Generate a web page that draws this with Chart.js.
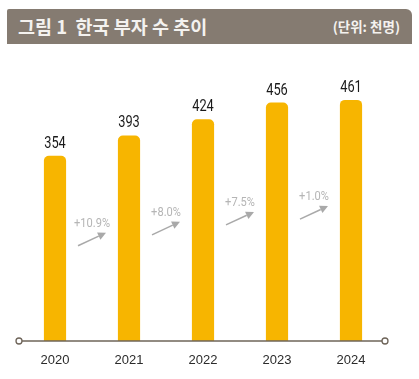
<!DOCTYPE html>
<html>
<head>
<meta charset="utf-8">
<script src="https://cdn.jsdelivr.net/npm/chart.js@4.4.1/dist/chart.umd.min.js"></script>
<style>
  html, body { margin: 0; padding: 0; background: #fff; }
  #wrap { position: relative; width: 419px; height: 379px; overflow: hidden; }
  #header {
    position: absolute; left: 7px; top: 9px; width: 405px; height: 35px;
    background: #857b71; border-radius: 2px 6px 0 0;
    font-family: "Noto Sans CJK KR", "Noto Sans", sans-serif; color: #f4f2ef;
  }
  #title { position: absolute; left: 11px; top: 4px; font-size: 18.5px; font-weight: bold; line-height: 26px; white-space: pre; }
  #unit { position: absolute; right: 12px; top: 7px; font-size: 13.5px; font-weight: bold; line-height: 20px; }
  canvas { position: absolute; left: 0; top: 0; }
</style>
</head>
<body>
<div id="wrap">
  <canvas id="c" width="419" height="379"></canvas>
  <div id="header"><span id="title">그림 1  한국 부자 수 추이</span><span id="unit">(단위: 천명)</span></div>
</div>
<script>
const categories = ["2020", "2021", "2022", "2023", "2024"];
const richCount = [354, 393, 424, 456, 461];
const growthLabels = ["+10.9%", "+8.0%", "+7.5%", "+1.0%"];

const narrow = "Roboto, 'Liberation Sans', sans-serif";

function condensedText(ctx, text, x, y, sx) {
  ctx.save();
  ctx.translate(x, y);
  ctx.scale(sx, 1);
  ctx.fillText(text, 0, 0);
  ctx.restore();
}

const overlay = {
  id: 'overlay',
  afterDatasetsDraw(chart) {
    const ctx = chart.ctx;
    const area = chart.chartArea;
    const meta = chart.getDatasetMeta(0);
    const xs = chart.scales.x, ys = chart.scales.y;
    ctx.save();
    // value labels
    ctx.font = "16px " + narrow;
    ctx.fillStyle = "#1a1a1a";
    ctx.textAlign = "center";
    ctx.textBaseline = "alphabetic";
    meta.data.forEach((bar, i) => {
      condensedText(ctx, String(richCount[i]), bar.x, bar.y - 8, 0.8);
    });
    // growth annotations
    for (let i = 0; i < growthLabels.length; i++) {
      const cx = (xs.getPixelForValue(i) + xs.getPixelForValue(i + 1)) / 2;
      const avg = (richCount[i] + richCount[i + 1]) / 2;
      const cy = ys.getPixelForValue(avg * 0.6);
      ctx.font = "13.5px " + narrow;
      ctx.fillStyle = "#b5b5b5";
      ctx.textAlign = "center";
      ctx.textBaseline = "middle";
      condensedText(ctx, growthLabels[i], cx, cy, 0.82);
      // arrow
      const x1 = cx - 14, y1 = cy + 22, x2 = cx + 14, y2 = cy + 9;
      ctx.strokeStyle = "#a9a9a9";
      ctx.fillStyle = "#a9a9a9";
      ctx.lineWidth = 1.5;
      const ang = Math.atan2(y2 - y1, x2 - x1);
      const hx = x2 - 8 * Math.cos(ang), hy = y2 - 8 * Math.sin(ang);
      ctx.beginPath();
      ctx.moveTo(x1, y1);
      ctx.lineTo(hx, hy);
      ctx.stroke();
      ctx.beginPath();
      ctx.moveTo(x2, y2);
      ctx.lineTo(hx + 4 * Math.sin(ang), hy - 4 * Math.cos(ang));
      ctx.lineTo(hx - 4 * Math.sin(ang), hy + 4 * Math.cos(ang));
      ctx.closePath();
      ctx.fill();
    }
    // baseline with end circles
    const by = area.bottom;
    const lx = area.left + 1, rx = area.right - 3;
    ctx.strokeStyle = "#6e6459";
    ctx.lineWidth = 1.5;
    ctx.beginPath();
    ctx.moveTo(lx + 3, by);
    ctx.lineTo(rx - 3, by);
    ctx.stroke();
    ctx.fillStyle = "#ffffff";
    ctx.lineWidth = 1.3;
    [lx, rx].forEach(x => {
      ctx.beginPath();
      ctx.arc(x, by, 3, 0, Math.PI * 2);
      ctx.fill();
      ctx.stroke();
    });
    ctx.restore();
  }
};

new Chart(document.getElementById('c'), {
  type: 'bar',
  data: {
    labels: categories,
    datasets: [{
      data: richCount,
      backgroundColor: "#f7b500",
      borderRadius: 5,
      borderSkipped: 'bottom',
      categoryPercentage: 1,
      barPercentage: 0.3
    }]
  },
  options: {
    responsive: false,
    animation: false,
    events: [],
    layout: { padding: { left: 18, right: 31, top: 79.5, bottom: 10 } },
    plugins: { legend: { display: false }, tooltip: { enabled: false } },
    scales: {
      x: {
        grid: { display: false, drawTicks: false },
        border: { display: false },
        afterFit(scale) { scale.height = 28; },
        ticks: { color: "#2b2b2b", font: { family: "'Liberation Sans', Arial, sans-serif", size: 13 }, padding: 12, maxRotation: 0 }
      },
      y: { display: false, min: 0, max: 500 }
    }
  },
  plugins: [overlay]
});
</script>
</body>
</html>
